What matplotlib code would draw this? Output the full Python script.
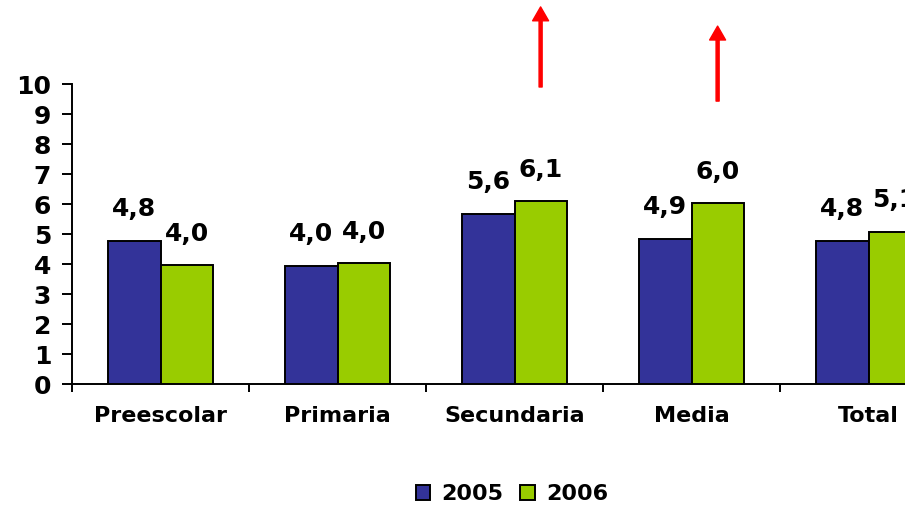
import numpy as np
import matplotlib
matplotlib.use("Agg")
import matplotlib.pyplot as plt
import matplotlib.patches as patches
import matplotlib.transforms as mtransforms

# wide bold sans, closest to the stretched Arial of the original
plt.rcParams["font.family"] = ["DejaVu Sans"]
plt.rcParams["font.weight"] = "bold"

# --- Daten ---
categories = ["Preescolar", "Primaria", "Secundaria", "Media", "Total"]
series_names = ["2005", "2006"]
values_2005 = [4.77, 3.95, 5.67, 4.85, 4.78]
values_2006 = [3.96, 4.02, 6.10, 6.02, 5.07]
labels_2005 = ["4,8", "4,0", "5,6", "4,9", "4,8"]
labels_2006 = ["4,0", "4,0", "6,1", "6,0", "5,1"]
arrow_categories = ["Secundaria", "Media"]

colors = ["#333399", "#99CC00"]
lw = 1.4

fig = plt.figure(figsize=(9.05, 5.05), dpi=100)
# axes runs past the right edge (chart is cropped in the original)
ax = fig.add_axes([72 / 905, 121 / 505, 885 / 905, 300 / 505])

x = np.arange(len(categories))
w = 0.295

bars_a = ax.bar(x - w / 2, values_2005, w, color=colors[0], edgecolor="black",
                linewidth=lw, label=series_names[0], zorder=3)
bars_b = ax.bar(x + w / 2, values_2006, w, color=colors[1], edgecolor="black",
                linewidth=lw, label=series_names[1], zorder=3)

# --- Datenbeschriftung ---
for bars, labs in ((bars_a, labels_2005), (bars_b, labels_2006)):
    for b, lab in zip(bars, labs):
        ax.annotate(lab, xy=(b.get_x() + b.get_width() / 2, b.get_height()),
                    xytext=(0, 17.6), textcoords="offset points",
                    ha="center", va="baseline", fontsize=18, fontweight="bold")

# --- Achsen ---
ax.set_xlim(-0.5, len(categories) - 0.5)
ax.set_ylim(0, 10)
ax.set_yticks(range(0, 11))
ax.tick_params(axis="y", direction="out", length=7, width=lw, pad=8,
               labelsize=18)
ax.set_xticks(np.arange(len(categories) + 1) - 0.5)
ax.set_xticklabels([])
ax.tick_params(axis="x", which="major", direction="out", length=6, width=lw)
ax.set_xticks(x, minor=True)
ax.set_xticklabels(categories, minor=True, fontsize=16, fontweight="bold")
ax.tick_params(axis="x", which="minor", length=0, pad=16)
for lab in ax.get_yticklabels():
    lab.set_fontweight("bold")

ax.spines["top"].set_visible(False)
ax.spines["right"].set_visible(False)
ax.spines["left"].set_linewidth(lw)
ax.spines["bottom"].set_linewidth(lw)

# --- rote Pfeile über den 2006-Balken ---
trans = mtransforms.blended_transform_factory(ax.transData, ax.transAxes)
arrow_spans = [(0.99, 1.257), (0.943, 1.193)]
for cat, (y0, y1) in zip(arrow_categories, arrow_spans):
    xi = categories.index(cat) + w / 2
    ax.annotate("", xy=(xi, y1), xytext=(xi, y0), xycoords=trans,
                textcoords=trans, annotation_clip=False,
                arrowprops=dict(facecolor="#FF0000", edgecolor="#FF0000",
                                width=2.2, headwidth=11.5, headlength=10,
                                shrink=0))

# --- Legende ---
handles = [patches.Patch(facecolor=c, edgecolor="black", linewidth=lw)
           for c in colors]
fig.legend(handles, series_names, loc="center",
           bbox_to_anchor=(512 / 905, 11 / 505), ncol=2, frameon=False,
           prop={"size": 16, "weight": "bold"}, handlelength=0.65,
           handleheight=0.65, handletextpad=0.5, columnspacing=0.76,
           borderaxespad=0, borderpad=0)

fig.savefig("out.png", dpi=100)
